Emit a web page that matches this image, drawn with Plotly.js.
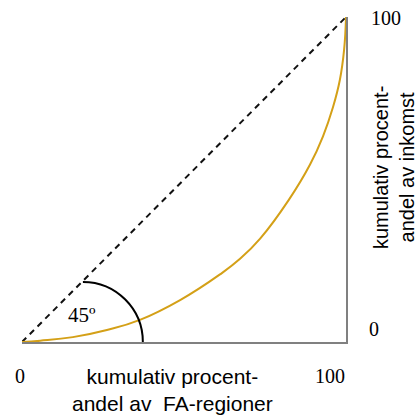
<!DOCTYPE html>
<html>
<head>
<meta charset="utf-8">
<script src="https://cdn.plot.ly/plotly-3.0.1.min.js"></script>
<style>html,body{margin:0;padding:0;background:#fff;}#chart{width:418px;height:415px;}</style>
</head>
<body>
<div id="chart"></div>
<script>
// Lorenz curve: cumulative share of FA-regions (x) vs cumulative share of income (y)
var regionShare = [0, 5.6, 15.7, 26.2, 36.4, 48.8, 61.1, 67.3, 73.5, 82.4, 88.9, 92.9, 96.0, 98.1, 99.4, 100];
var incomeShare = [0, 0.4, 1.5, 3.7, 6.8, 12.9, 20.8, 25.6, 31.8, 43.8, 54.6, 63.3, 72.3, 80.6, 89.8, 100];
var equalityX = [0, 100];
var equalityY = [0, 100];
var xTitle = "kumulativ procent-<br>andel av  FA-regioner";
var yTitle = "kumulativ procent-<br>andel av inkomst";
var angleLabel = "45º";

var serif = "Liberation Serif, Times New Roman, serif";
var sans = "Liberation Sans, Arial, sans-serif";

var traces = [
  {x: equalityX, y: equalityY, mode: "lines", line: {color: "#111", width: 2, dash: "6px,5px"}, hoverinfo: "skip"},
  {x: regionShare, y: incomeShare, mode: "lines", line: {color: "#D4A017", width: 2, shape: "spline", smoothing: 1.3}, hoverinfo: "skip"}
];

// quarter arc marking the angle
var cx = 18.8, r = 18.5, k = 0.5523;
var arcPath = "M " + cx + "," + r + " C " + (cx + k*r) + "," + r + " " + (cx + r) + "," + (k*r) + " " + (cx + r) + ",0";

var layout = {
  width: 418, height: 415,
  margin: {l: 22, r: 72, t: 17, b: 73},
  paper_bgcolor: "#fff", plot_bgcolor: "#fff",
  showlegend: false,
  xaxis: {range: [0, 100], showgrid: false, zeroline: false, showticklabels: false, ticks: "",
          showline: true, linecolor: "#808080", linewidth: 2, fixedrange: true},
  yaxis: {range: [0, 100], side: "right", showgrid: false, zeroline: false, showticklabels: false, ticks: "",
          showline: true, linecolor: "#808080", linewidth: 2, fixedrange: true},
  shapes: [
    {type: "path", xref: "x", yref: "y", path: arcPath, line: {color: "#000", width: 2}}
  ],
  annotations: [
    {text: "0", xref: "paper", yref: "paper", x: -0.006, y: -0.105, xanchor: "center", yanchor: "middle", showarrow: false, font: {family: serif, size: 20, color: "#000"}},
    {text: "100", xref: "paper", yref: "paper", x: 0.951, y: -0.105, xanchor: "center", yanchor: "middle", showarrow: false, font: {family: serif, size: 20, color: "#000"}},
    {text: "100", xref: "paper", yref: "paper", x: 1.123, y: 0.997, xanchor: "center", yanchor: "middle", showarrow: false, font: {family: serif, size: 20, color: "#000"}},
    {text: "0", xref: "paper", yref: "paper", x: 1.086, y: 0.04, xanchor: "center", yanchor: "middle", showarrow: false, font: {family: serif, size: 20, color: "#000"}},
    {text: angleLabel, xref: "paper", yref: "paper", x: 0.185, y: 0.083, xanchor: "center", yanchor: "middle", showarrow: false, font: {family: serif, size: 21, color: "#000"}},
    {text: xTitle, xref: "paper", yref: "paper", x: 0.466, y: -0.148, xanchor: "center", yanchor: "middle", showarrow: false, font: {family: sans, size: 21, color: "#000"}},
    {text: yTitle, xref: "paper", yref: "paper", x: 1.148, y: 0.538, xanchor: "center", yanchor: "middle", textangle: -90, showarrow: false, font: {family: sans, size: 20, color: "#000"}}
  ]
};

Plotly.newPlot("chart", traces, layout, {staticPlot: true, displayModeBar: false});
</script>
</body>
</html>
